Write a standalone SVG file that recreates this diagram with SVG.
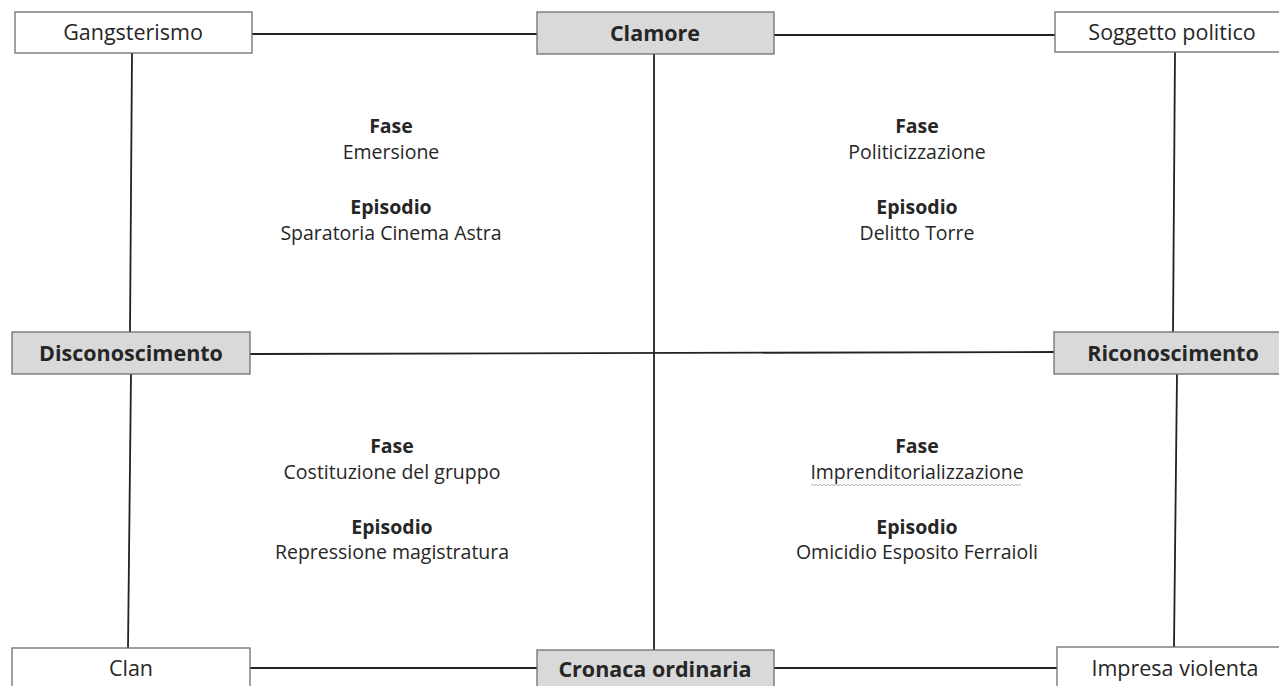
<svg xmlns="http://www.w3.org/2000/svg" width="1279" height="686" viewBox="0 0 1279 686">
<style>
.box{fill:#ffffff;stroke:#6e6e6e;stroke-width:1.3}
.key{fill:#d9d9d9;stroke:#6e6e6e;stroke-width:1.3}
.lbl{font-family:"Open Sans","Liberation Sans",sans-serif;font-size:21.5px;fill:#262626;text-anchor:middle}
.b{font-weight:bold}
.txt{font-family:"Open Sans","Liberation Sans",sans-serif;font-size:19.5px;fill:#262626;text-anchor:middle}
.ln{stroke:#222222;stroke-width:1.8;fill:none}
</style>
<rect width="1279" height="686" fill="#ffffff"/>
<g id="connectors">
<line class="ln" x1="252" y1="34" x2="537" y2="34"/>
<line class="ln" x1="774" y1="35" x2="1055" y2="35"/>
<line class="ln" x1="132" y1="53" x2="130" y2="332"/>
<line class="ln" x1="131" y1="374" x2="128" y2="648"/>
<line class="ln" x1="654" y1="54" x2="654" y2="650"/>
<line class="ln" x1="1175" y1="52" x2="1173" y2="332"/>
<line class="ln" x1="1177" y1="374" x2="1174" y2="647"/>
<line class="ln" x1="250" y1="354" x2="1054" y2="352"/>
<line class="ln" x1="250" y1="668" x2="537" y2="668"/>
<line class="ln" x1="774" y1="668" x2="1057" y2="668"/>
</g>
<g id="gangsterismo"><rect class="box" x="15" y="12" width="237" height="41"/><text class="lbl" x="133" y="40">Gangsterismo</text></g>
<g id="clamore"><rect class="key" x="537" y="12" width="237" height="42"/><text class="lbl b" x="655" y="41">Clamore</text></g>
<g id="soggetto-politico"><rect class="box" x="1055" y="12" width="240" height="40"/><text class="lbl" x="1172" y="40">Soggetto politico</text></g>
<g id="disconoscimento"><rect class="key" x="12" y="332" width="238" height="42"/><text class="lbl b" x="131" y="361">Disconoscimento</text></g>
<g id="riconoscimento"><rect class="key" x="1054" y="332" width="240" height="42"/><text class="lbl b" x="1173" y="361">Riconoscimento</text></g>
<g id="clan"><rect class="box" x="12" y="648" width="238" height="50"/><text class="lbl" x="131" y="676">Clan</text></g>
<g id="cronaca-ordinaria"><rect class="key" x="537" y="650" width="237" height="50"/><text class="lbl b" x="655" y="677">Cronaca ordinaria</text></g>
<g id="impresa-violenta"><rect class="box" x="1057" y="647" width="240" height="50"/><text class="lbl" x="1175" y="676">Impresa violenta</text></g>
<g id="q-emersione">
<text class="txt b" x="391" y="133">Fase</text>
<text class="txt" x="391" y="159">Emersione</text>
<text class="txt b" x="391" y="214">Episodio</text>
<text class="txt" x="391" y="240">Sparatoria Cinema Astra</text>
</g>
<g id="q-politicizzazione">
<text class="txt b" x="917" y="133">Fase</text>
<text class="txt" x="917" y="159">Politicizzazione</text>
<text class="txt b" x="917" y="214">Episodio</text>
<text class="txt" x="917" y="240">Delitto Torre</text>
</g>
<g id="q-costituzione">
<text class="txt b" x="392" y="453">Fase</text>
<text class="txt" x="392" y="479">Costituzione del gruppo</text>
<text class="txt b" x="392" y="534">Episodio</text>
<text class="txt" x="392" y="559">Repressione magistratura</text>
</g>
<g id="q-imprenditorializzazione">
<text class="txt b" x="917" y="453">Fase</text>
<text class="txt" x="917" y="479">Imprenditorializzazione</text>
<path d="M811 485 q1 -1.5 2 0 t2 0 t2 0 t2 0 t2 0 t2 0 t2 0 t2 0 t2 0 t2 0 t2 0 t2 0 t2 0 t2 0 t2 0 t2 0 t2 0 t2 0 t2 0 t2 0 t2 0 t2 0 t2 0 t2 0 t2 0 t2 0 t2 0 t2 0 t2 0 t2 0 t2 0 t2 0 t2 0 t2 0 t2 0 t2 0 t2 0 t2 0 t2 0 t2 0 t2 0 t2 0 t2 0 t2 0 t2 0 t2 0 t2 0 t2 0 t2 0 t2 0 t2 0 t2 0 t2 0 t2 0 t2 0 t2 0 t2 0 t2 0 t2 0 t2 0 t2 0 t2 0 t2 0 t2 0 t2 0 t2 0 t2 0 t2 0 t2 0 t2 0 t2 0 t2 0 t2 0 t2 0 t2 0 t2 0 t2 0 t2 0 t2 0 t2 0 t2 0 t2 0 t2 0 t2 0 t2 0 t2 0 t2 0 t2 0 t2 0 t2 0 t2 0 t2 0 t2 0 t2 0 t2 0 t2 0 t2 0 t2 0 t2 0 t2 0 t2 0 t2 0 t2 0 t2 0 t2 0" fill="none" stroke="#a0a0a0" stroke-width="0.8"/>
<text class="txt b" x="917" y="534">Episodio</text>
<text class="txt" x="917" y="559">Omicidio Esposito Ferraioli</text>
</g>
</svg>
